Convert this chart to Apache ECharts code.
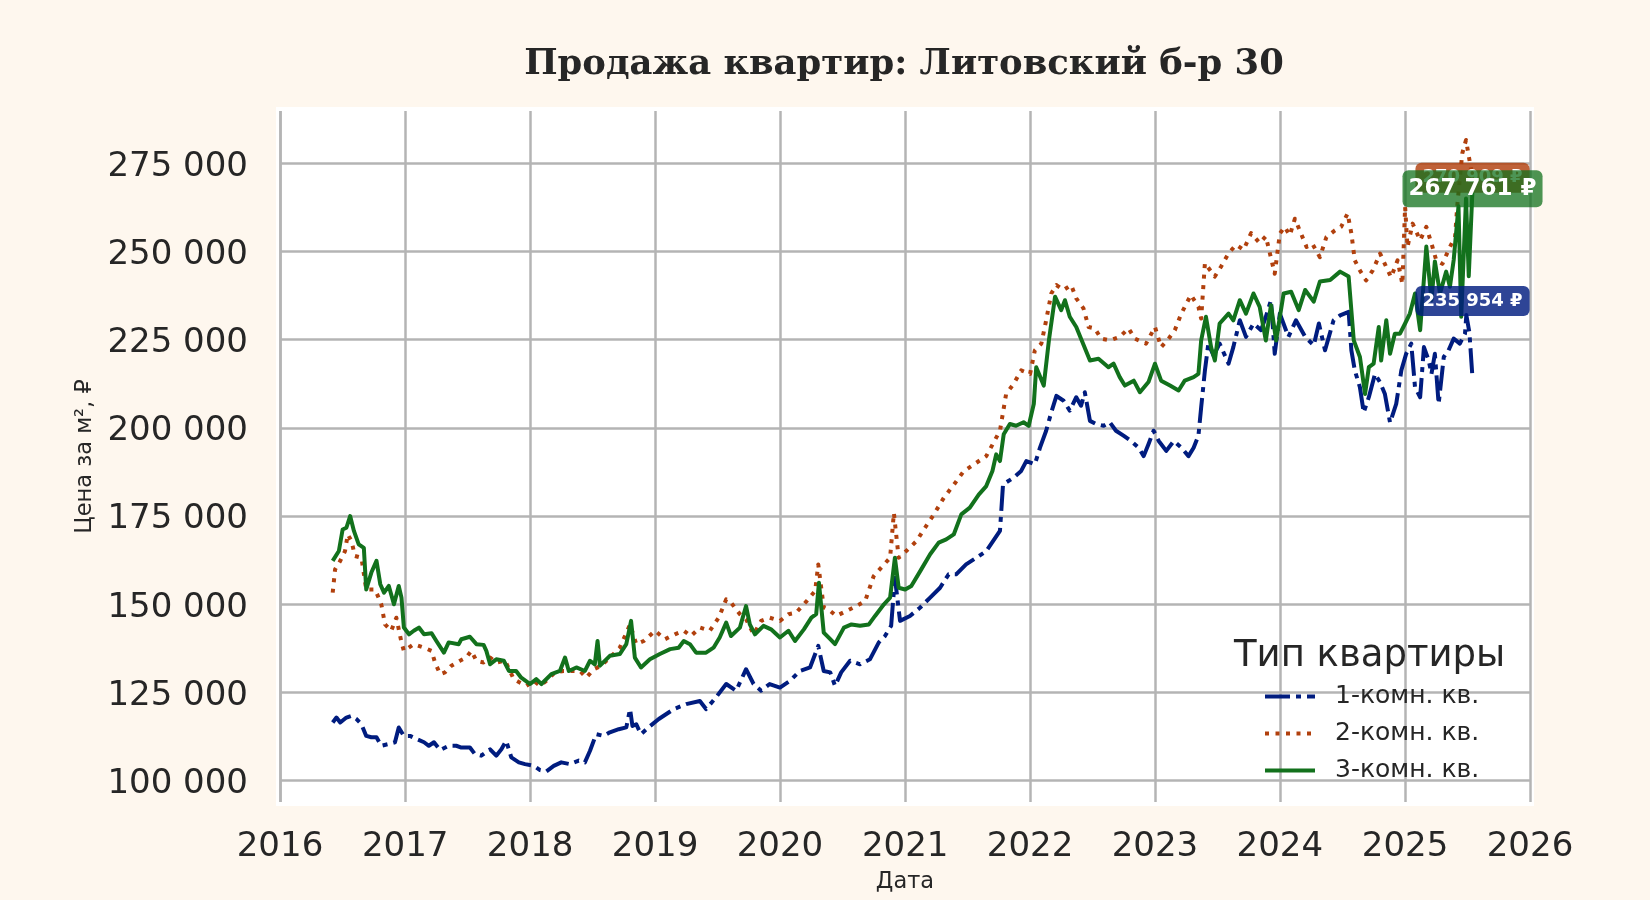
<!DOCTYPE html>
<html>
<head>
<meta charset="utf-8">
<title>Продажа квартир: Литовский б-р 30</title>
<script src="https://cdn.jsdelivr.net/npm/echarts@6/dist/echarts.min.js"></script>
<style type="text/css">
  html, body { margin:0; padding:0; background:#fef7ee; }
  #chart { width:1650px; height:900px; }
</style>
</head>
<body>
<div id="chart"></div>
<script type="text/javascript">
// серии: [дата, цена за м2]
var oneRoom = [
  ['2016-06-03',116500],['2016-06-14',117900],['2016-06-25',116500],['2016-07-13',117900],
  ['2016-07-28',118400],['2016-08-11',117500],['2016-08-26',116000],['2016-09-09',112700],
  ['2016-09-24',112300],['2016-10-09',112300],['2016-10-23',109900],['2016-11-14',110400],
  ['2016-12-02',110900],['2016-12-13',115100],['2016-12-28',112700],['2017-01-15',112700],
  ['2017-02-03',111800],['2017-02-25',110900],['2017-03-11',109900],['2017-03-26',110900],
  ['2017-04-13',108700],['2017-05-08',109900],['2017-05-30',109900],['2017-06-14',109400],
  ['2017-07-09',109400],['2017-07-24',107500],['2017-08-11',107100],['2017-09-06',108900],
  ['2017-09-24',107100],['2017-10-09',108900],['2017-10-23',111300],['2017-11-07',106600],
  ['2017-11-29',105200],['2017-12-17',104700],['2018-01-12',104200],['2018-01-30',103000],
  ['2018-02-17',102600],['2018-03-11',104200],['2018-04-02',105200],['2018-04-27',104700],
  ['2018-05-23',105700],['2018-06-10',105200],['2018-06-25',108500],['2018-07-13',113200],
  ['2018-08-04',112700],['2018-08-22',113700],['2018-09-17',114600],['2018-10-09',115100],
  ['2018-10-20',120300],['2018-10-27',115500],['2018-11-07',116000],['2018-11-21',113200],
  ['2018-12-13',115100],['2019-01-12',117500],['2019-02-25',120300],['2019-04-02',121700],
  ['2019-05-12',122600],['2019-05-30',120300],['2019-06-28',123600],['2019-07-28',127400],
  ['2019-08-26',125500],['2019-09-24',131600],['2019-10-16',127400],['2019-11-07',125500],
  ['2019-12-02',127400],['2020-01-01',126400],['2020-01-30',128300],['2020-02-28',131100],
  ['2020-03-29',132100],['2020-04-22',138200],['2020-05-08',131100],['2020-05-27',130700],
  ['2020-06-10',126900],['2020-06-28',130700],['2020-07-24',134000],['2020-08-22',133000],
  ['2020-09-20',134400],['2020-10-16',139200],['2020-11-03',141000],['2020-11-21',143900],
  ['2020-12-02',157500],['2020-12-17',145300],['2021-01-15',146700],['2021-02-14',149100],
  ['2021-03-15',151900],['2021-04-13',154700],['2021-05-08',158500],['2021-05-30',158500],
  ['2021-06-28',161300],['2021-07-28',163200],['2021-08-26',165100],['2021-10-05',170800],
  ['2021-10-14',184000],['2021-11-14',185900],['2021-12-06',187800],['2021-12-21',190600],
  ['2022-01-15',189700],['2022-01-30',194400],['2022-02-17',199200],['2022-03-04',204400],
  ['2022-03-19',209100],['2022-04-09',207700],['2022-04-27',204900],['2022-05-16',208700],
  ['2022-05-30',206300],['2022-06-10',210100],['2022-06-25',202000],['2022-07-13',201100],
  ['2022-08-04',200600],['2022-08-22',201600],['2022-09-09',199200],['2022-10-01',197800],
  ['2022-10-23',196300],['2022-11-14',194400],['2022-11-29',192000],['2022-12-13',195400],
  ['2022-12-28',199200],['2023-01-12',196300],['2023-02-03',193500],['2023-02-25',196300],
  ['2023-03-19',194400],['2023-04-09',192000],['2023-04-24',194400],['2023-05-08',197800],
  ['2023-05-16',205800],['2023-05-27',216300],['2023-06-06',223900],['2023-06-21',220500],
  ['2023-07-09',223900],['2023-08-04',218200],['2023-08-18',222900],['2023-09-06',230500],
  ['2023-09-24',225800],['2023-10-16',229600],['2023-11-07',227700],['2023-11-21',231500],
  ['2023-12-06',236200],['2023-12-17',221000],['2024-01-01',232400],['2024-01-26',225800],
  ['2024-02-17',230500],['2024-03-15',225800],['2024-04-09',223400],['2024-04-24',229600],
  ['2024-05-12',222000],['2024-06-06',230500],['2024-06-25',231900],['2024-07-20',232900],
  ['2024-07-28',222000],['2024-08-07',216300],['2024-08-22',211500],['2024-09-02',204400],
  ['2024-09-17',208700],['2024-10-05',215300],['2024-10-20',212900],['2024-11-03',209600],
  ['2024-11-18',201500],['2024-12-06',206800],['2024-12-21',216300],['2025-01-04',221000],
  ['2025-01-19',223900],['2025-01-30',211500],['2025-02-14',208700],['2025-02-25',222900],
  ['2025-03-11',219100],['2025-03-19',215300],['2025-03-29',221000],['2025-04-09',206800],
  ['2025-04-24',220100],['2025-05-08',222000],['2025-05-23',225300],['2025-06-10',223900],
  ['2025-06-25',226700],['2025-06-29',232000],['2025-07-08',227000],['2025-07-17',214000]
];
var twoRoom = [
  ['2016-06-03',153300],['2016-06-10',159900],['2016-06-25',162300],['2016-07-09',165100],
  ['2016-07-17',169800],['2016-07-28',167900],['2016-08-07',163700],['2016-08-26',163200],
  ['2016-09-09',154200],['2016-10-05',154200],['2016-10-23',150000],['2016-11-03',144300],
  ['2016-11-21',142500],['2016-12-06',146200],['2016-12-21',139200],['2016-12-28',136800],
  ['2017-01-26',138700],['2017-02-25',137700],['2017-03-19',136800],['2017-03-29',133500],
  ['2017-04-13',130200],['2017-04-27',130700],['2017-05-16',132600],['2017-06-10',134000],
  ['2017-06-28',134900],['2017-07-13',136800],['2017-07-28',134000],['2017-08-18',133500],
  ['2017-09-06',134900],['2017-09-24',133500],['2017-10-20',134000],['2017-11-14',128800],
  ['2017-12-02',127800],['2017-12-21',126900],['2018-01-12',128300],['2018-01-30',126900],
  ['2018-02-17',128300],['2018-03-15',130700],['2018-04-09',131100],['2018-05-08',131100],
  ['2018-05-27',131100],['2018-06-14',129200],['2018-07-06',131600],['2018-07-28',132600],
  ['2018-08-22',134900],['2018-09-20',137700],['2018-10-20',144300],['2018-11-07',138700],
  ['2018-11-29',139600],['2019-01-01',142500],['2019-01-30',140100],['2019-02-28',141500],
  ['2019-03-26',142500],['2019-04-16',141000],['2019-05-12',143400],['2019-06-10',142500],
  ['2019-07-06',146200],['2019-07-28',151400],['2019-08-11',150500],['2019-09-06',147200],
  ['2019-09-24',145800],['2019-10-16',141500],['2019-11-07',145300],['2019-12-02',146200],
  ['2020-01-01',145300],['2020-01-26',147200],['2020-02-17',147600],['2020-03-19',150900],
  ['2020-04-13',153800],['2020-04-22',161300],['2020-05-08',149100],['2020-05-27',148100],
  ['2020-06-14',146700],['2020-07-13',148100],['2020-08-11',149500],['2020-09-06',150900],
  ['2020-10-01',158000],['2020-10-23',160400],['2020-11-18',163200],['2020-11-29',175900],
  ['2020-12-13',163200],['2021-01-04',165100],['2021-02-03',167900],['2021-02-28',171700],
  ['2021-03-26',175500],['2021-04-24',180200],['2021-05-27',184400],['2021-06-21',187700],
  ['2021-07-20',189600],['2021-08-26',192000],['2021-10-05',199200],['2021-10-23',209600],
  ['2021-11-14',212500],['2021-12-06',216300],['2022-01-01',215300],['2022-01-15',222000],
  ['2022-02-03',223900],['2022-02-17',230500],['2022-03-04',238100],['2022-03-19',240500],
  ['2022-04-09',239100],['2022-05-01',240500],['2022-05-16',236700],['2022-06-06',233900],
  ['2022-06-21',228600],['2022-07-09',228200],['2022-07-28',225300],['2022-08-22',224800],
  ['2022-09-20',225800],['2022-10-16',228200],['2022-11-03',225300],['2022-12-06',223900],
  ['2023-01-01',228600],['2023-01-19',222900],['2023-02-10',225300],['2023-02-28',227700],
  ['2023-03-19',232400],['2023-04-16',237700],['2023-05-08',234300],['2023-05-16',231000],
  ['2023-05-27',246700],['2023-06-25',242900],['2023-07-13',245700],['2023-08-04',249500],
  ['2023-08-26',251900],['2023-09-17',250500],['2023-10-09',255200],['2023-11-03',252400],
  ['2023-11-21',254300],['2023-12-17',243700],['2024-01-01',255100],['2024-01-15',257000],
  ['2024-01-30',254600],['2024-02-14',259300],['2024-02-28',256000],['2024-03-19',251300],
  ['2024-04-05',252200],['2024-04-27',248400],['2024-05-16',254100],['2024-06-10',256000],
  ['2024-06-28',257000],['2024-07-17',260800],['2024-07-28',255100],['2024-08-07',247500],
  ['2024-08-22',244600],['2024-09-09',241800],['2024-09-28',244600],['2024-10-20',249400],
  ['2024-11-07',245600],['2024-11-21',242700],['2024-12-10',247500],['2024-12-24',240800],
  ['2025-01-01',262700],['2025-01-08',251300],['2025-01-23',257900],['2025-02-14',253200],
  ['2025-03-04',257000],['2025-03-22',251300],['2025-04-02',247500],['2025-04-20',246500],
  ['2025-05-12',251300],['2025-05-27',254100],['2025-06-03',263600],['2025-06-17',277800],
  ['2025-06-28',281600],['2025-07-17',270909]
];
var threeRoom = [
  ['2016-06-03',162300],['2016-06-21',165100],['2016-07-02',171200],['2016-07-13',171700],
  ['2016-07-24',175000],['2016-08-04',170800],['2016-08-18',167000],['2016-09-02',166000],
  ['2016-09-09',154200],['2016-09-24',159000],['2016-10-09',162300],['2016-10-20',155700],
  ['2016-10-31',153300],['2016-11-14',155200],['2016-11-29',150000],['2016-12-13',155200],
  ['2016-12-21',151900],['2016-12-28',143400],['2017-01-12',141500],['2017-01-26',142500],
  ['2017-02-10',143400],['2017-02-25',141500],['2017-03-19',141800],['2017-04-02',139600],
  ['2017-04-24',136300],['2017-05-08',139200],['2017-06-06',138700],['2017-06-14',140100],
  ['2017-07-09',140800],['2017-07-28',138700],['2017-08-18',138500],['2017-08-26',136800],
  ['2017-09-06',133000],['2017-09-24',134400],['2017-10-16',134000],['2017-10-31',131100],
  ['2017-11-21',131100],['2017-12-06',129200],['2018-01-01',127400],['2018-01-19',128800],
  ['2018-02-03',127400],['2018-03-04',130200],['2018-03-29',131100],['2018-04-13',134900],
  ['2018-04-24',131100],['2018-05-16',132100],['2018-06-10',131100],['2018-06-25',134000],
  ['2018-07-09',133000],['2018-07-17',139600],['2018-07-24',132600],['2018-08-22',135400],
  ['2018-09-20',135900],['2018-10-09',138700],['2018-10-23',145300],['2018-11-03',134900],
  ['2018-11-21',132100],['2018-12-17',134400],['2019-01-15',135900],['2019-02-14',137300],
  ['2019-03-11',137700],['2019-03-26',139600],['2019-04-13',138700],['2019-05-01',136300],
  ['2019-05-30',136300],['2019-06-21',137700],['2019-07-09',140600],['2019-07-28',144800],
  ['2019-08-11',141000],['2019-09-06',143400],['2019-09-24',149500],['2019-10-05',144300],
  ['2019-10-20',141500],['2019-11-14',143900],['2019-12-06',142900],['2020-01-01',140600],
  ['2020-01-26',142500],['2020-02-14',139600],['2020-03-11',142900],['2020-04-02',146200],
  ['2020-04-16',147200],['2020-04-24',156100],['2020-05-08',142000],['2020-05-27',140100],
  ['2020-06-10',138700],['2020-07-06',143400],['2020-07-28',144300],['2020-08-22',143900],
  ['2020-09-17',144300],['2020-10-05',146700],['2020-10-31',150000],['2020-11-18',151900],
  ['2020-12-02',163200],['2020-12-13',154700],['2021-01-01',154200],['2021-01-19',155200],
  ['2021-02-14',159400],['2021-03-15',164200],['2021-04-09',167500],['2021-05-01',168400],
  ['2021-05-23',169800],['2021-06-14',175500],['2021-07-09',177400],['2021-08-04',181100],
  ['2021-08-26',183500],['2021-09-13',187800],['2021-09-24',192500],['2021-10-05',190600],
  ['2021-10-16',198200],['2021-11-03',201100],['2021-11-21',200600],['2021-12-13',201600],
  ['2021-12-28',200600],['2022-01-12',206800],['2022-01-19',217200],['2022-02-10',212000],
  ['2022-02-25',224800],['2022-03-15',237200],['2022-04-02',233400],['2022-04-13',236200],
  ['2022-04-27',231500],['2022-05-16',228600],['2022-05-30',225300],['2022-06-25',219100],
  ['2022-07-20',219600],['2022-08-18',217200],['2022-09-02',218200],['2022-09-20',214400],
  ['2022-10-05',212000],['2022-10-31',213400],['2022-11-18',210100],['2022-12-13',213000],
  ['2023-01-01',218200],['2023-01-19',213400],['2023-02-14',212000],['2023-03-11',210600],
  ['2023-03-29',213400],['2023-04-24',214400],['2023-05-08',215300],['2023-05-16',224800],
  ['2023-05-30',231500],['2023-06-14',222900],['2023-06-25',219100],['2023-07-09',229600],
  ['2023-08-04',232400],['2023-08-18',230500],['2023-09-06',236200],['2023-09-24',232400],
  ['2023-10-16',238100],['2023-11-03',234300],['2023-11-21',224800],['2023-12-06',234800],
  ['2023-12-21',224800],['2024-01-12',238100],['2024-02-03',238600],['2024-02-25',233400],
  ['2024-03-15',239100],['2024-04-09',235800],['2024-04-27',241500],['2024-05-27',241900],
  ['2024-06-25',244300],['2024-07-20',242900],['2024-08-04',224800],['2024-08-22',220100],
  ['2024-09-06',209600],['2024-09-17',217200],['2024-10-01',218200],['2024-10-16',228600],
  ['2024-10-23',219100],['2024-11-07',230500],['2024-11-18',221000],['2024-12-02',226700],
  ['2024-12-17',226700],['2025-01-01',229600],['2025-01-15',232400],['2025-01-30',238100],
  ['2025-02-14',227700],['2025-03-04',251400],['2025-03-19',236200],['2025-03-29',247200],
  ['2025-04-13',238100],['2025-05-01',244300],['2025-05-12',240000],['2025-05-23',247600],
  ['2025-06-06',262800],['2025-06-14',231500],['2025-06-28',265000],['2025-07-06',243000],
  ['2025-07-17',267761]
];
var seriesNames = ['1-комн. кв.', '2-комн. кв.', '3-комн. кв.'];
var lastDate = '2025-07-17';
var lastValues = [235954, 270909, 267761];
var yTicks = [100000, 125000, 150000, 175000, 200000, 225000, 250000, 275000];

var colors = ['#001c7f', '#b1400d', '#12711c'];
var boxColors = ['rgba(0,28,127,0.82)', 'rgba(177,64,13,0.82)', 'rgba(18,113,28,0.75)'];
var dashes = [[25, 6, 5, 6], [4, 6.5], 'solid'];
var font = 'DejaVu Sans';

function fmt(v) {
  return String(Math.round(v)).replace(/\B(?=(\d{3})+(?!\d))/g, ' ');
}

var dom = document.getElementById('chart');
var myChart = echarts.init(dom);

var series = [];
var allData = [oneRoom, twoRoom, threeRoom];
for (var i = 0; i < 3; i++) {
  var big = (i == 2);
  series.push({
    name: seriesNames[i],
    type: 'line',
    data: allData[i],
    symbol: 'none',
    showSymbol: false,
    color: colors[i],
    lineStyle: { width: 4, color: colors[i], type: dashes[i], cap: 'butt', join: 'round' },
    markPoint: {
      symbol: 'circle',
      symbolSize: 1,
      itemStyle: { color: 'rgba(0,0,0,0)' },
      label: {
        show: true,
        position: 'inside',
        formatter: function (p) { return fmt(p.value) + ' ₽'; },
        color: '#fff',
        fontFamily: font,
        fontWeight: 'bold',
        fontSize: big ? 23 : 18,
        backgroundColor: boxColors[i],
        borderRadius: 6,
        padding: big ? [7, 6] : [6, 7]
      },
      data: [{ coord: [lastDate, lastValues[i]], value: lastValues[i] }]
    }
  });
}

var option = {
  backgroundColor: '#fef7ee',
  animation: false,
  title: [{
    text: 'Продажа квартир: Литовский б-р 30',
    left: 899,
    top: 42,
    textAlign: 'center',
    textStyle: { fontFamily: 'DejaVu Serif', fontWeight: 'bold', fontSize: 35.4, color: '#262626' }
  }, {
    text: 'Тип квартиры',
    left: 1229,
    top: 633,
    textStyle: { fontFamily: font, fontWeight: 'normal', fontSize: 37, color: '#262626' }
  }],
  legend: {
    orient: 'vertical',
    left: 1263,
    top: 684,
    padding: 0,
    itemWidth: 50,
    itemHeight: 14,
    itemGap: 12,
    data: seriesNames,
    itemStyle: { color: 'rgba(0,0,0,0)', borderWidth: 0, opacity: 0 },
    lineStyle: { width: 4 },
    textStyle: { fontFamily: font, fontSize: 25, color: '#262626', padding: [0, 0, 0, 15] }
  },
  grid: {
    left: 280, right: 120, top: 111, bottom: 98,
    show: true, backgroundColor: '#ffffff', borderColor: '#ffffff', borderWidth: 8
  },
  xAxis: {
    type: 'time',
    min: '2016-01-01',
    max: '2026-01-01',
    splitNumber: 10,
    name: 'Дата',
    nameLocation: 'middle',
    nameGap: 69,
    nameTextStyle: { fontFamily: font, fontSize: 22.5, color: '#262626' },
    axisLine: { show: false },
    axisTick: { show: false },
    axisLabel: {
      formatter: '{yyyy}', fontFamily: font, fontSize: 34, color: '#262626', margin: 28,
      showMinLabel: true, showMaxLabel: true
    },
    splitLine: { show: true, lineStyle: { color: '#b4b4b4', width: 2.5 } }
  },
  yAxis: {
    type: 'value',
    min: 93960,
    max: 289830,
    minInterval: 25000,
    maxInterval: 25000,
    name: 'Цена за м², ₽',
    nameLocation: 'middle',
    nameGap: 182,
    nameTextStyle: { fontFamily: font, fontSize: 22.5, color: '#262626' },
    axisLine: { show: false },
    axisTick: { show: false },
    axisLabel: {
      margin: 32,
      showMinLabel: false, showMaxLabel: false,
      formatter: function (v) { return yTicks.indexOf(v) >= 0 ? '{t|' + fmt(v) + '}' : ''; },
      rich: {
        t: { fontFamily: font, fontSize: 34, color: '#262626', padding: [7, 0, 0, 0] }
      }
    },
    splitLine: { show: true, showMinLine: false, showMaxLine: false, lineStyle: { color: '#b4b4b4', width: 2.5 } }
  },
  series: series
};

if (option && typeof option === 'object') {
  myChart.setOption(option, true);
}
</script>
</body>
</html>
